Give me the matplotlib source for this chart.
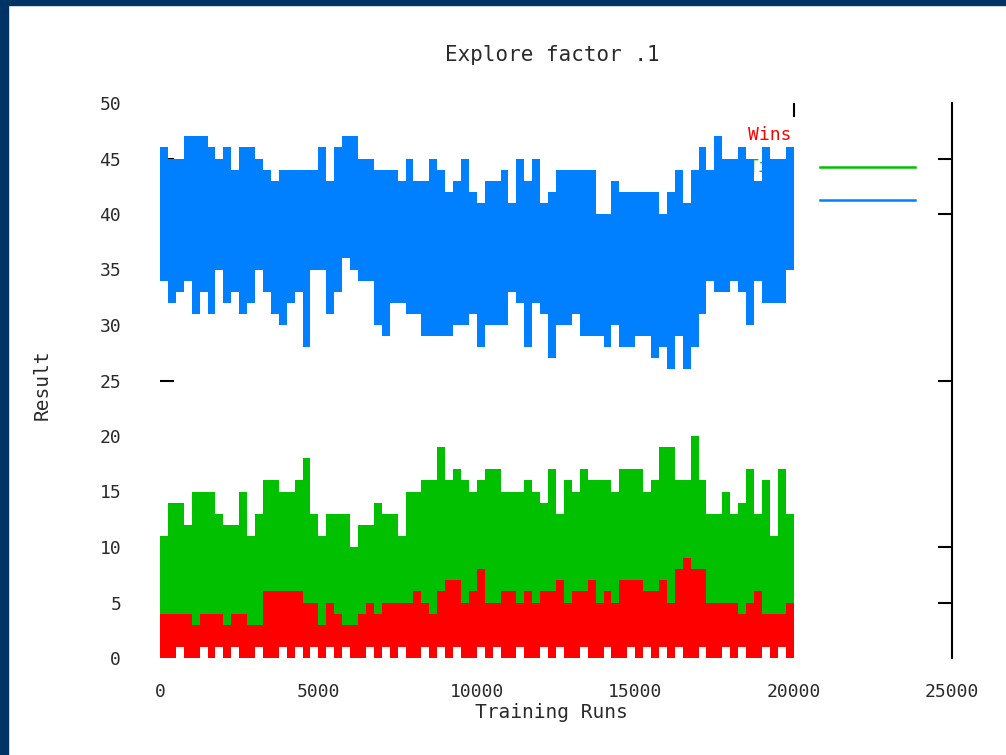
import matplotlib
matplotlib.use("Agg")
import matplotlib.pyplot as plt
import numpy as np
from matplotlib.patches import Rectangle
from matplotlib.ticker import FixedLocator

# Daten: Min/Max je 250 Trainingslaeufe
BIN = 250
blue_hi = [46, 45, 45, 47, 47, 47, 46, 45, 46, 44,
           46, 46, 45, 44, 43, 44, 44, 44, 44, 44,
           46, 43, 46, 47, 47, 45, 45, 44, 44, 44,
           43, 45, 43, 43, 45, 44, 42, 43, 45, 42,
           41, 43, 43, 44, 41, 45, 43, 45, 41, 42,
           44, 44, 44, 44, 44, 40, 40, 43, 42, 42,
           42, 42, 42, 40, 42, 44, 41, 44, 46, 44,
           47, 45, 45, 46, 45, 43, 46, 45, 45, 46]
blue_lo = [34, 32, 33, 34, 31, 33, 31, 35, 32, 33,
           31, 32, 35, 33, 31, 30, 32, 33, 28, 35,
           35, 31, 33, 36, 35, 34, 34, 30, 29, 32,
           32, 31, 31, 29, 29, 29, 29, 30, 30, 31,
           28, 30, 30, 30, 33, 32, 28, 32, 31, 27,
           30, 30, 31, 29, 29, 29, 28, 30, 28, 28,
           29, 29, 27, 28, 26, 29, 26, 28, 31, 34,
           33, 33, 34, 33, 30, 34, 32, 32, 32, 35]
green_hi = [11, 14, 14, 12, 15, 15, 15, 13, 12, 12,
            15, 11, 13, 16, 16, 15, 15, 16, 18, 13,
            11, 13, 13, 13, 10, 12, 12, 14, 13, 13,
            11, 15, 15, 16, 16, 19, 16, 17, 16, 15,
            16, 17, 17, 15, 15, 15, 16, 15, 14, 17,
            13, 16, 15, 17, 16, 16, 16, 15, 17, 17,
            17, 15, 16, 19, 19, 16, 16, 20, 16, 13,
            13, 15, 13, 14, 17, 13, 16, 11, 17, 13]
green_lo = [1, 1, 1, 1, 1, 1, 1, 1, 0, 1,
            1, 1, 1, 1, 1, 1, 1, 1, 1, 1,
            1, 1, 1, 1, 1, 1, 1, 1, 1, 1,
            1, 1, 1, 1, 1, 1, 1, 1, 1, 1,
            1, 1, 1, 1, 1, 1, 1, 1, 1, 1,
            1, 1, 1, 1, 0, 1, 1, 1, 1, 1,
            1, 1, 1, 1, 1, 1, 1, 1, 1, 1,
            1, 1, 1, 1, 1, 1, 1, 1, 1, 1]
red_hi = [4, 4, 4, 4, 3, 4, 4, 4, 3, 4,
          4, 3, 3, 6, 6, 6, 6, 6, 5, 5,
          3, 5, 4, 3, 3, 4, 5, 4, 5, 5,
          5, 5, 6, 5, 4, 6, 7, 7, 5, 6,
          8, 5, 5, 6, 6, 5, 6, 5, 6, 6,
          7, 5, 6, 6, 7, 5, 6, 5, 7, 7,
          7, 6, 6, 7, 5, 8, 9, 8, 8, 5,
          5, 5, 5, 4, 5, 6, 4, 4, 4, 5]
red_lo = [0, 0, 1, 0, 0, 1, 0, 1, 0, 1,
          0, 0, 1, 0, 0, 1, 0, 1, 0, 1,
          0, 1, 0, 1, 0, 0, 1, 0, 1, 0,
          1, 0, 0, 1, 0, 1, 0, 1, 0, 0,
          1, 0, 1, 0, 0, 1, 0, 0, 1, 0,
          1, 0, 0, 1, 0, 0, 1, 0, 0, 1,
          0, 1, 0, 1, 0, 1, 0, 0, 1, 0,
          0, 1, 0, 1, 0, 0, 1, 0, 1, 0]

labels = ["Wins", "Ties", "Losses"]
colors = ["#ff0000", "#00c000", "#0080ff"]
y_ticks = list(range(0, 51, 5))
x_ticks = list(range(0, 25001, 5000))
mark_y = [5, 10, 25, 40, 45]

plt.rcParams['font.family'] = ['DejaVu Sans Mono']
txt = '#2a2a2a'

fig = plt.figure(figsize=(10.06, 7.55), dpi=100)
fig.patch.set_facecolor('white')
ax = fig.add_axes([160/1006, 1-658/755, 792/1006, 555/755])

edges = np.arange(0, BIN*len(blue_hi)+1, BIN)
def band(lo, hi, c, z):
    ax.fill_between(edges, np.append(lo, lo[-1]), np.append(hi, hi[-1]),
                    step='post', color=c, linewidth=0, zorder=z)

band(green_lo, green_hi, colors[1], 2)
band(red_lo, red_hi, colors[0], 3)
band(blue_lo, blue_hi, colors[2], 4)

ax.set_xlim(0, 25000)
ax.set_ylim(0, 50)
for s in ['left', 'top', 'bottom']:
    ax.spines[s].set_visible(False)
ax.spines['right'].set_linewidth(1.5)
ax.set_axisbelow(True)

ax.set_xticks(x_ticks)
ax.set_yticks(y_ticks)
ax.tick_params(axis='x', which='major', length=0, pad=18, labelsize=13, labelcolor=txt)
ax.tick_params(axis='y', which='major', length=0, pad=28, labelsize=13, labelcolor=txt)
ax.xaxis.remove_overlapping_locs = False
ax.yaxis.remove_overlapping_locs = False
ax.yaxis.set_minor_locator(FixedLocator(mark_y))
ax.xaxis.set_minor_locator(FixedLocator([20000]))
ax.tick_params(axis='y', which='minor', direction='in', length=10, width=1.5,
               color='black', left=True, right=True)
ax.tick_params(axis='x', which='minor', direction='in', length=10, width=1.5,
               color='black', top=True, bottom=False)

# Legende (wird von den Daten ueberdeckt)
key_y = [47.1, 44.2, 41.3]
for lab, c, ky in zip(labels, colors, key_y):
    ax.text(19930, ky, lab, color=c, ha='right', va='center', fontsize=13, zorder=1)
    if lab != "Wins":
        ax.plot([20820, 23830], [ky, ky], color=c, lw=1.8, zorder=5, clip_on=False)

fig.text(552/1006, 1-55/755, "Explore factor .1", ha='center', va='center', fontsize=15, color=txt)
fig.text(551/1006, 1-712/755, "Training Runs", ha='center', va='center', fontsize=14, color=txt)
fig.text(42/1006, 1-385/755, "Result", ha='center', va='center', rotation=90, fontsize=14, color=txt)

# dunkelblauer Rahmen
fig.add_artist(Rectangle((0, 1-5/755), 1, 5/755, transform=fig.transFigure, color='#003366'))
fig.add_artist(Rectangle((0, 0), 8/1006, 1, transform=fig.transFigure, color='#003366'))

fig.savefig("out.png", dpi=100)
